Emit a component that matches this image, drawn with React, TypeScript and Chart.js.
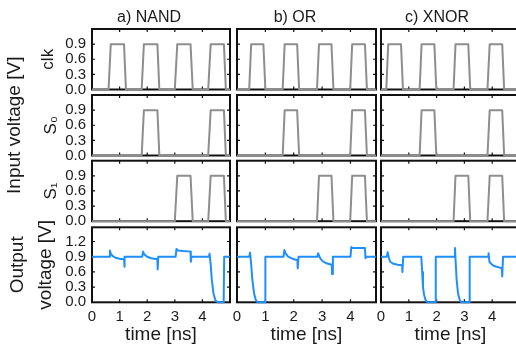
import React, { useEffect, useRef } from 'react';
import { Chart, registerables } from 'chart.js';

Chart.register(...registerables);

type P = [number, number];

// ---------- texts & ticks ----------
const panelTitles = ['a) NAND', 'b) OR', 'c) XNOR'];
const rowTitles = ['clk', 'S\u2080', 'S\u2081'];
const inputAxisTitle = 'Input voltage [V]';
const outputAxisTitle = ['Output', 'voltage [V]'];
const timeAxisTitle = 'time [ns]';
const timeTicks = [0, 1, 2, 3, 4];
const timeMax = [5, 4.9, 5];
const inputTicks = [0, 0.3, 0.6, 0.9];
const outputTicks = [0, 0.3, 0.6, 0.9, 1.2];
const inputMax = 1.2;
const outputMax = 1.48;

// ---------- a) NAND ----------
const clkA: P[] = [[0, 0], [0.6, 0], [0.68, 0.9], [1.16, 0.9], [1.23, 0], [1.8, 0], [1.88, 0.9], [2.37, 0.9], [2.44, 0], [3.0, 0], [3.09, 0.9], [3.57, 0.9], [3.65, 0], [4.21, 0], [4.3, 0.9], [4.78, 0.9], [4.85, 0], [5, 0]];
const s0A: P[] = [[0, 0], [1.8, 0], [1.88, 0.9], [2.37, 0.9], [2.44, 0], [4.21, 0], [4.3, 0.9], [4.78, 0.9], [4.85, 0], [5, 0]];
const s1A: P[] = [[0, 0], [3.0, 0], [3.09, 0.9], [3.57, 0.9], [3.65, 0], [4.21, 0], [4.3, 0.9], [4.78, 0.9], [4.85, 0], [5, 0]];
const outA: P[] = [[0, 0.9], [0.62, 0.9], [0.65, 1.02], [0.68, 0.96], [0.75, 0.91], [0.85, 0.88], [1.0, 0.86], [1.16, 0.85], [1.17, 0.7], [1.19, 0.9], [1.82, 0.9], [1.85, 1.0], [1.9, 0.94], [2.0, 0.9], [2.15, 0.87], [2.37, 0.85], [2.38, 0.65], [2.4, 0.9], [3.03, 0.9], [3.06, 1.05], [3.12, 1.02], [3.3, 1.01], [3.57, 1.0], [3.58, 0.8], [3.61, 0.9], [4.23, 0.9], [4.26, 0.96], [4.3, 0.75], [4.34, 0.45], [4.4, 0.18], [4.47, 0.04], [4.55, 0], [4.77, 0], [4.79, 0.9], [5, 0.9]];

// ---------- b) OR ----------
const clkB: P[] = [[0, 0], [0.43, 0], [0.5, 0.9], [0.93, 0.9], [1.0, 0], [1.61, 0], [1.68, 0.9], [2.12, 0.9], [2.19, 0], [2.82, 0], [2.89, 0.9], [3.33, 0.9], [3.4, 0], [3.99, 0], [4.06, 0.9], [4.51, 0.9], [4.58, 0], [4.9, 0]];
const s0B: P[] = [[0, 0], [1.61, 0], [1.68, 0.9], [2.12, 0.9], [2.19, 0], [3.99, 0], [4.06, 0.9], [4.51, 0.9], [4.58, 0], [4.9, 0]];
const s1B: P[] = [[0, 0], [2.82, 0], [2.89, 0.9], [3.33, 0.9], [3.4, 0], [3.99, 0], [4.06, 0.9], [4.51, 0.9], [4.58, 0], [4.9, 0]];
const outB: P[] = [[0, 0.9], [0.43, 0.9], [0.46, 0.98], [0.5, 0.75], [0.54, 0.45], [0.6, 0.18], [0.66, 0.05], [0.72, 0], [0.99, 0], [1.0, 0.9], [1.64, 0.9], [1.67, 1.03], [1.72, 0.96], [1.8, 0.9], [1.95, 0.86], [2.13, 0.83], [2.14, 0.67], [2.17, 0.9], [2.83, 0.9], [2.86, 0.97], [2.92, 0.88], [3.0, 0.82], [3.15, 0.77], [3.34, 0.74], [3.35, 0.56], [3.38, 0.9], [4.0, 0.9], [4.03, 1.09], [4.08, 1.07], [4.51, 1.07], [4.53, 0.87], [4.56, 0.9], [4.9, 0.9]];

// ---------- c) XNOR ----------
const clkC: P[] = [[0, 0], [0.19, 0], [0.26, 0.9], [0.72, 0.9], [0.79, 0], [1.39, 0], [1.46, 0.9], [1.92, 0.9], [1.99, 0], [2.61, 0], [2.68, 0.9], [3.14, 0.9], [3.21, 0], [3.83, 0], [3.91, 0.9], [4.36, 0.9], [4.43, 0], [5, 0]];
const s0C: P[] = [[0, 0], [1.39, 0], [1.46, 0.9], [1.92, 0.9], [1.99, 0], [3.83, 0], [3.91, 0.9], [4.36, 0.9], [4.43, 0], [5, 0]];
const s1C: P[] = [[0, 0], [2.61, 0], [2.68, 0.9], [3.14, 0.9], [3.21, 0], [3.83, 0], [3.91, 0.9], [4.36, 0.9], [4.43, 0], [5, 0]];
const outC: P[] = [[0, 0.9], [0.21, 0.9], [0.24, 0.99], [0.28, 0.88], [0.33, 0.8], [0.45, 0.76], [0.6, 0.74], [0.76, 0.73], [0.77, 0.6], [0.8, 0.9], [1.45, 0.9], [1.48, 0.6], [1.51, 0.3], [1.55, 0.15], [1.6, 0.05], [1.67, 0], [1.96, 0], [1.97, 0.9], [2.64, 0.9], [2.66, 1.07], [2.69, 0.75], [2.72, 0.45], [2.77, 0.18], [2.83, 0.05], [2.89, 0], [3.18, 0], [3.19, 0.9], [3.85, 0.9], [3.87, 0.97], [3.9, 0.8], [3.96, 0.76], [4.05, 0.72], [4.35, 0.67], [4.36, 0.51], [4.39, 0.9], [5, 0.9]];

const series: P[][][] = [
  [clkA, clkB, clkC],
  [s0A, s0B, s0C],
  [s1A, s1B, s1C],
  [outA, outB, outC],
];

// ---------- styling / layout (not data) ----------
const FONT = "'Liberation Sans', Arial, sans-serif";
const GRAY = '#8e8e8e';
const BLUE = '#1e8fff';
const TEXT = '#1a1a1a';
const COL_L = [92, 237, 381];
const COL_W = [138, 139, 139];
const ROW_T = [29, 95, 160.7, 227.3];
const ROW_H = [60.5, 60.5, 60.5, 75];
const TITLE_CX = [149, 295, 437];
const TITLE_LH = 20;
const TITLE_PT = 4;
const TITLE_PB = 1.5;
const PAGE_H = 349;

const framePlugin = {
  id: 'frame',
  beforeDatasetsDraw(chart: any, _args: any, opts: any) {
    const { ctx, chartArea } = chart;
    const { left, top, right, bottom } = chartArea;
    const xs = chart.scales.x;
    const ys = chart.scales.y;
    ctx.save();
    ctx.strokeStyle = '#111';
    ctx.lineWidth = 2;
    ctx.strokeRect(left, top, right - left, bottom - top);
    ctx.lineWidth = 1.2;
    ctx.beginPath();
    for (const v of opts.xTicks || []) {
      const px = xs.getPixelForValue(v);
      ctx.moveTo(px, top);
      ctx.lineTo(px, top + 3);
      ctx.moveTo(px, bottom);
      ctx.lineTo(px, bottom - 3);
    }
    for (const v of opts.yTicks || []) {
      const py = ys.getPixelForValue(v);
      ctx.moveTo(left, py);
      ctx.lineTo(left + 3, py);
      ctx.moveTo(right, py);
      ctx.lineTo(right - 3, py);
    }
    ctx.stroke();
    ctx.restore();
  },
};

interface Geo {
  left: number; top: number; width: number; height: number;
  padL: number; padR: number; padT: number; padB: number;
  yW: number; y2W: number; rW: number; xH: number;
}

function geometry(r: number, c: number): Geo {
  const isTop = r === 0;
  const isBottom = r === 3;
  const isFirst = c === 0;
  const plotL = COL_L[c];
  const plotW = COL_W[c];
  const plotT = ROW_T[r];
  const plotH = ROW_H[r];
  const titleH = isTop ? TITLE_LH + TITLE_PT + TITLE_PB : 0;
  let yW = 0;
  let y2W = 0;
  let rW = 0;
  if (isFirst) {
    if (r === 1) { y2W = 30; yW = 62; } else yW = 92;
    if (isTop) rW = 2 * TITLE_CX[0] - (plotL - yW) - (plotL + plotW);
  } else if (isTop) {
    yW = 2 * plotL + plotW - 2 * TITLE_CX[c];
  }
  let padL = 20;
  if (isFirst) padL = plotL - yW - y2W; // canvas starts at page x = 0
  const padR = 20;
  let padT = isFirst && r === 1 ? 55 : 20;
  let padB = isBottom ? 0 : isFirst && r === 1 ? 55 : 20;
  const rawLeft = plotL - yW - y2W - padL;
  const left = Math.floor(rawLeft);
  padL += rawLeft - left;
  const rawTop = plotT - titleH - padT;
  const top = Math.floor(rawTop);
  padT += rawTop - top;
  let xH = 0;
  let height: number;
  if (isBottom) {
    height = PAGE_H - top;
    xH = PAGE_H - (plotT + plotH);
  } else {
    const rawH = padT + titleH + plotH + padB;
    height = Math.ceil(rawH);
    padB += height - rawH;
  }
  const rawW = padL + y2W + yW + plotW + rW + padR;
  const width = Math.ceil(rawW);
  return { left, top, width, height, padL, padR: padR + (width - rawW), padT, padB, yW, y2W, rW, xH };
}

function buildConfig(r: number, c: number, g: Geo): any {
  const isTop = r === 0;
  const isBottom = r === 3;
  const isFirst = c === 0;
  const yTicks = isBottom ? outputTicks : inputTicks;
  const yMax = isBottom ? outputMax : inputMax;
  const data = series[r][c].map(([x, y]) => ({ x, y }));

  let yTitle: any = { display: false };
  if (isFirst) {
    if (isBottom) {
      yTitle = { display: true, text: outputAxisTitle, color: TEXT, font: { family: FONT, size: 19, lineHeight: '28px' }, padding: { top: 3.5, bottom: 0 } };
    } else {
      const axisLeft = r === 1 ? g.y2W : 0;
      const cx = r === 0 ? 48 : 51;
      yTitle = { display: true, text: rowTitles[r], color: TEXT, font: { family: FONT, size: 17, lineHeight: '20px' }, padding: { top: cx - axisLeft - 10, bottom: 0 } };
    }
  }

  const hidden = (w: number, pos: string) => ({
    type: 'linear',
    position: pos,
    weight: 5,
    min: 0,
    max: yMax,
    display: true,
    afterFit: (s: any) => { s.width = w; },
    ticks: { display: false },
    grid: { display: false, drawTicks: false },
    border: { display: false },
  });

  const scales: any = {
    x: {
      type: 'linear',
      min: 0,
      max: timeMax[c],
      display: isBottom,
      afterBuildTicks: (s: any) => { s.ticks = timeTicks.map((v) => ({ value: v })); },
      afterFit: (s: any) => { s.height = g.xH; },
      ticks: { autoSkip: false, maxRotation: 0, padding: 6, color: TEXT, font: { family: FONT, size: 15 }, callback: (v: any) => String(v) },
      grid: { display: false, drawTicks: false },
      border: { display: false },
      title: { display: true, text: timeAxisTitle, color: TEXT, font: { family: FONT, size: 19, lineHeight: '22px' }, padding: { top: 0, bottom: 3 } },
    },
    y: {
      type: 'linear',
      min: 0,
      max: yMax,
      display: g.yW > 0,
      afterBuildTicks: (s: any) => { s.ticks = yTicks.map((v) => ({ value: v })); },
      afterFit: (s: any) => { s.width = g.yW; },
      ticks: { display: isFirst, autoSkip: false, padding: 6, color: TEXT, font: { family: FONT, size: 15 }, callback: (v: any) => Number(v).toFixed(1) },
      grid: { display: false, drawTicks: false },
      border: { display: false },
      title: yTitle,
    },
  };
  if (g.y2W > 0) {
    scales.y2 = {
      ...hidden(g.y2W, 'left'),
      title: { display: true, text: inputAxisTitle, color: TEXT, font: { family: FONT, size: 19, lineHeight: '22px' }, padding: { top: 15 - 11, bottom: 0 } },
    };
  }
  if (g.rW > 0) {
    scales.yr = hidden(g.rW, 'right');
  }

  return {
    type: 'line',
    data: {
      datasets: [{
        data,
        borderColor: isBottom ? BLUE : GRAY,
        borderWidth: 2,
        pointRadius: 0,
        tension: 0,
        fill: false,
        clip: false,
        borderJoinStyle: 'round',
      }],
    },
    options: {
      responsive: false,
      animation: false,
      devicePixelRatio: 1,
      events: [],
      layout: { padding: { left: g.padL, right: g.padR, top: g.padT, bottom: g.padB } },
      plugins: {
        legend: { display: false },
        tooltip: { enabled: false },
        title: isTop
          ? { display: true, text: panelTitles[c], color: TEXT, fullSize: true, font: { family: FONT, size: 16, weight: 'normal', lineHeight: TITLE_LH + 'px' }, padding: { top: TITLE_PT, bottom: TITLE_PB } }
          : { display: false },
        frame: { xTicks: timeTicks.filter((v) => v > 0), yTicks: yTicks.filter((v) => v > 0) },
      },
      scales,
    },
    plugins: [framePlugin],
  };
}

const cells: { r: number; c: number }[] = [];
for (let r = 0; r < 4; r++) for (let c = 0; c < 3; c++) cells.push({ r, c });

export default function App() {
  const refs = useRef<(HTMLCanvasElement | null)[]>([]);
  const geos = cells.map(({ r, c }) => geometry(r, c));

  useEffect(() => {
    const charts: Chart[] = [];
    cells.forEach(({ r, c }, i) => {
      const cv = refs.current[i];
      if (!cv) return;
      charts.push(new Chart(cv, buildConfig(r, c, geos[i])));
    });
    return () => charts.forEach((ch) => ch.destroy());
  }, []);

  return (
    <div style={{ position: 'absolute', left: 0, top: 0, width: 516, height: PAGE_H, overflow: 'hidden', background: '#fff' }}>
      {cells.map((cell, i) => {
        const g = geos[i];
        return (
          <canvas
            key={i}
            ref={(el) => { refs.current[i] = el; }}
            width={g.width}
            height={g.height}
            style={{ position: 'absolute', left: g.left, top: g.top, width: g.width, height: g.height }}
          />
        );
      })}
    </div>
  );
}
